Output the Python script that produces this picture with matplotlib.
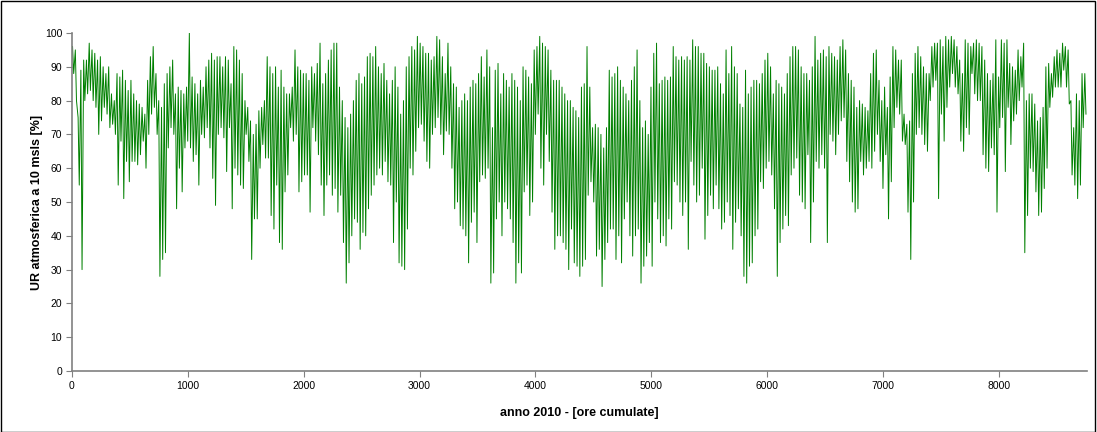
import numpy as np
import matplotlib
matplotlib.use("Agg")
import matplotlib.pyplot as plt
from matplotlib.patches import Rectangle

plt.rcParams['font.family'] = ['Liberation Sans', 'DejaVu Sans']

# umidita' relativa giornaliera (massimo notturno / minimo pomeridiano), giorni 0..364 del 2010
ur_max = [
    96, 95, 75, 89, 92, 92, 97, 95, 94, 92, 93, 90, 88, 90, 82, 80, 88, 87, 89, 86,
    83, 86, 82, 80, 79, 78, 76, 86, 93, 96, 88, 80, 78,
    85, 88, 90, 92, 82, 84, 83, 82, 84, 100, 87, 85, 82, 86, 84, 90, 92, 94, 92, 93,
    93, 90, 93, 92, 85, 96, 95, 92, 88, 80, 78, 74, 70,
    73, 77, 78, 80, 93, 90, 88, 90, 84, 89, 84, 82, 82, 84, 95, 90, 89, 88, 88, 86,
    90, 88, 91, 97, 85, 88, 92, 95, 97, 97, 84, 80, 75, 72,
    76, 80, 86, 88, 85, 87, 93, 94, 93, 96, 90, 88, 91, 86, 82, 86, 90, 84, 76, 80,
    90, 93, 96, 95, 99, 97, 96, 94, 94, 92, 93, 99, 98,
    93, 88, 97, 90, 85, 84, 78, 80, 82, 80, 84, 86, 85, 88, 93, 87, 95, 90, 72, 89,
    91, 82, 88, 86, 84, 88, 86, 84, 80, 90, 89, 87, 85,
    95, 96, 99, 97, 96, 95, 89, 86, 86, 86, 84, 82, 80, 80, 78, 77, 75, 84, 85, 96,
    84, 72, 73, 72, 70, 66, 72, 89, 87, 88, 90, 86, 84,
    82, 80, 86, 90, 95, 80, 72, 74, 70, 84, 94, 97, 85, 86, 87, 86, 87, 96, 93, 92,
    93, 92, 93, 92, 98, 96, 96, 94, 94, 91, 90, 89, 89,
    90, 85, 82, 95, 88, 96, 90, 88, 79, 78, 89, 82, 84, 86, 86, 85, 88, 92, 94, 90,
    82, 86, 85, 84, 82, 88, 93, 96, 96, 95, 90, 88, 88,
    86, 90, 99, 92, 94, 95, 93, 96, 94, 93, 92, 96, 98, 95, 88, 86, 84, 78, 80, 79,
    78, 77, 88, 94, 95, 86, 80, 84, 78, 87, 96, 95, 92,
    92, 76, 73, 74, 88, 94, 96, 93, 90, 88, 88, 96, 97, 97, 98, 96, 99, 98, 99, 98,
    96, 92, 88, 98, 97, 96, 97, 98, 97, 96, 92, 88, 86,
    88, 98, 87, 98, 97, 98, 91, 90, 89, 95, 93, 97, 80, 82, 82, 79, 74, 75, 78, 90,
    91, 88, 93, 95, 94, 97, 96, 95, 80, 72, 82, 80, 88, 88,
]
ur_min = [
    88, 80, 55, 30, 80, 82, 83, 80, 78, 70, 74, 78, 76, 72, 73, 70, 55, 68, 51, 62,
    56, 62, 62, 61, 64, 68, 60, 70, 76, 78, 70, 28, 33,
    35, 66, 72, 70, 48, 60, 53, 66, 68, 66, 62, 64, 55, 70, 69, 72, 66, 57, 49, 70,
    72, 69, 59, 72, 48, 60, 58, 55, 54, 70, 62, 33, 45,
    45, 60, 67, 63, 63, 46, 42, 55, 38, 36, 53, 58, 72, 68, 70, 53, 56, 58, 58, 47,
    72, 68, 64, 55, 46, 55, 58, 52, 54, 47, 52, 38, 26, 32,
    40, 45, 44, 36, 41, 40, 48, 52, 55, 58, 60, 58, 62, 56, 55, 38, 50, 32, 31, 30,
    42, 60, 58, 65, 72, 73, 68, 62, 60, 70, 72, 75, 70,
    64, 71, 70, 60, 48, 50, 43, 42, 40, 32, 44, 47, 38, 56, 58, 57, 60, 26, 29, 45,
    50, 40, 50, 48, 45, 38, 26, 32, 29, 53, 55, 46, 50,
    70, 76, 60, 55, 70, 62, 47, 36, 40, 40, 38, 36, 30, 42, 32, 31, 28, 31, 33, 52,
    56, 50, 34, 36, 25, 33, 38, 42, 42, 33, 40, 32, 45,
    50, 40, 34, 40, 42, 26, 31, 34, 38, 31, 50, 45, 38, 40, 37, 45, 42, 56, 55, 50,
    46, 50, 36, 62, 55, 50, 52, 60, 39, 46, 52, 48, 55,
    48, 42, 44, 50, 46, 36, 44, 48, 40, 28, 26, 31, 32, 40, 42, 56, 54, 60, 62, 58,
    48, 28, 38, 42, 46, 43, 58, 60, 63, 52, 50, 48, 64,
    38, 50, 62, 60, 64, 60, 38, 70, 68, 64, 70, 74, 75, 62, 56, 50, 47, 48, 62, 58,
    60, 62, 60, 65, 70, 62, 54, 64, 45, 56, 72, 78, 76,
    68, 67, 47, 33, 50, 70, 72, 70, 67, 65, 80, 84, 86, 51, 76, 68, 78, 84, 88, 84,
    82, 68, 65, 72, 70, 88, 82, 80, 80, 64, 60, 59, 66,
    64, 47, 72, 75, 59, 78, 67, 74, 76, 80, 84, 35, 46, 60, 59, 53, 46, 47, 54, 60,
    78, 81, 84, 84, 84, 89, 84, 79, 58, 55, 51, 55, 72, 76,
]
ora_max = 5    # ora del giorno del massimo
ora_min = 15   # ora del giorno del minimo

giorni = np.arange(len(ur_max))
ore = np.column_stack([giorni * 24 + ora_max, giorni * 24 + ora_min]).ravel()
ur = np.column_stack([ur_max, ur_min]).ravel()

fig = plt.figure(figsize=(10.97, 4.32), dpi=100)
ax = fig.add_axes([0.0656, 0.1412, 0.9253, 0.7824])

ax.plot(ore, ur, color='#008000', linewidth=0.7)

ax.set_xlim(0, 8760)
ax.set_ylim(0, 100)
ax.set_xticks(np.arange(0, 8001, 1000))
ax.set_yticks(np.arange(0, 101, 10))
ax.tick_params(labelsize=7.5, length=4, color='#808080', direction='out', pad=3)
for s in ['top', 'right']:
    ax.spines[s].set_visible(False)
for s in ['left', 'bottom']:
    ax.spines[s].set_color('#808080')
    ax.spines[s].set_linewidth(1.2)

ax.set_xlabel('anno 2010 - [ore cumulate]', fontsize=9, fontweight='bold', labelpad=12)
ax.set_ylabel('UR atmosferica a 10 msls [%]', fontsize=9, fontweight='bold', labelpad=1)

# cornice esterna del grafico
fig.add_artist(Rectangle((0.0005, 0.001), 0.998, 0.997, transform=fig.transFigure,
                         fill=False, edgecolor='black', linewidth=1))

fig.savefig('out.png', dpi=100)
